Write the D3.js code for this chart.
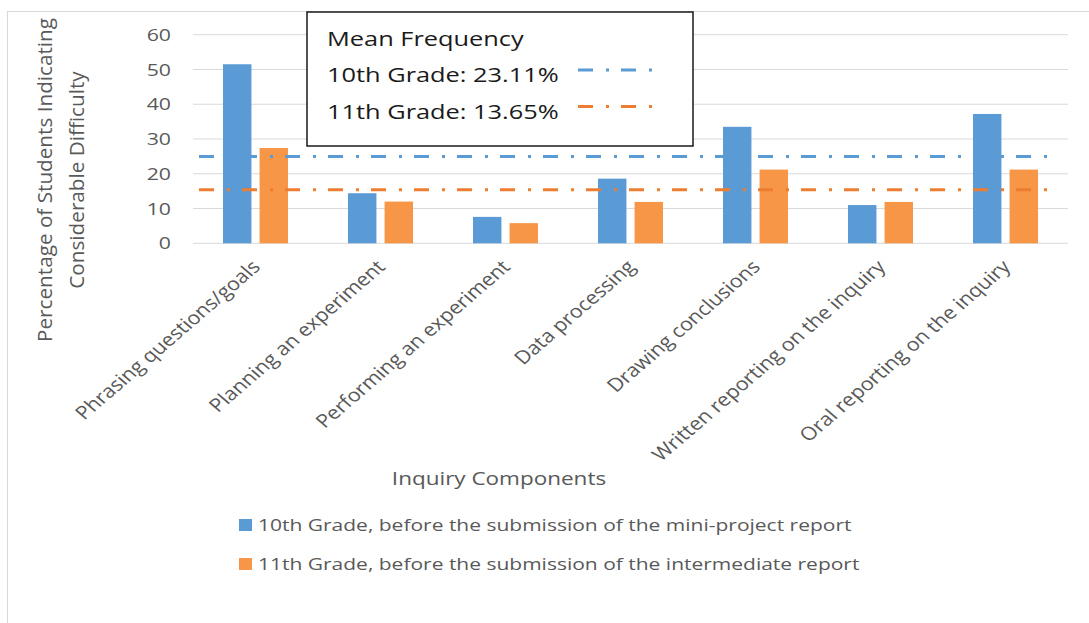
<!DOCTYPE html>
<html>
<head>
<meta charset="utf-8">
<script src="https://cdn.jsdelivr.net/npm/d3@7"></script>
<style>
  body{margin:0;background:#fff;}
  text{font-family:"Open Sans",sans-serif;}
</style>
</head>
<body>
<svg id="chart" width="1089" height="623"></svg>
<script>
// data
var categories = ["Phrasing questions/goals","Planning an experiment","Performing an experiment",
  "Data processing","Drawing conclusions","Written reporting on the inquiry","Oral reporting on the inquiry"];
var grade10 = [51.5, 14.4, 7.6, 18.6, 33.5, 11.0, 37.2];
var grade11 = [27.4, 12.0, 5.8, 11.9, 21.2, 11.9, 21.2];
var seriesNames = ["10th Grade, before the submission of the mini-project report",
  "11th Grade, before the submission of the intermediate report"];
var meanLevels = [25.0, 15.4];
var meanLabels = ["10th Grade: 23.11%","11th Grade: 13.65%"];
var yTicks = [0,10,20,30,40,50,60];

var blue = "#5B9BD5", orange = "#F79646", orangeLine = "#ED7D31";
var grey = "#595959";
var sx = 1.25; // text in the picture is stretched sideways

var svg = d3.select("svg#chart");

// outer frame
svg.append("rect")
  .attr("x",7.5).attr("y",11.5)
  .attr("width",1200).attr("height",700)
  .attr("fill","none").attr("stroke","#D9D9D9");

var x0 = d3.scaleBand().domain(categories).range([193,1068]).padding(0);
var x1 = d3.scaleBand().domain([0,1]).range([-32.5,32.5]).paddingInner(8/36);
var y = d3.scaleLinear().domain([0,60]).range([243.3,34.7]);

// gridlines
svg.selectAll("line.grid")
  .data(yTicks)
  .enter().append("line")
  .attr("class","grid")
  .attr("x1",x0.range()[0]).attr("x2",x0.range()[1])
  .attr("y1",function(d){return y(d);}).attr("y2",function(d){return y(d);})
  .attr("stroke","#D9D9D9").attr("stroke-width",1);

// y tick labels
svg.selectAll("text.ylabel")
  .data(yTicks)
  .enter().append("text")
  .attr("class","ylabel")
  .attr("transform",function(d){return "translate(171,"+y(d)+") scale("+sx+",1)";})
  .attr("dy","0.36em")
  .attr("text-anchor","end")
  .attr("fill",grey)
  .style("font-size","17px")
  .text(function(d){return d;});

// bars
var series = [grade10, grade11];
var colors = [blue, orange];
for(var s=0; s<2; s++){
  svg.selectAll("rect.bar"+s)
    .data(series[s])
    .enter().append("rect")
    .attr("class","bar"+s)
    .attr("x",function(d,i){return x0(categories[i]) + x0.bandwidth()/2 + x1(s);})
    .attr("width",x1.bandwidth())
    .attr("y",function(d){return y(d);})
    .attr("height",function(d){return y(0)-y(d);})
    .attr("fill",colors[s]);
}

// mean lines
var lineColors = [blue, orangeLine];
svg.selectAll("line.mean")
  .data(meanLevels)
  .enter().append("line")
  .attr("class","mean")
  .attr("x1",199).attr("x2",1054)
  .attr("y1",function(d){return y(d);}).attr("y2",function(d){return y(d);})
  .attr("stroke",function(d,i){return lineColors[i];})
  .attr("stroke-width",3)
  .attr("stroke-dasharray","15,13,3,12");

// category labels
svg.selectAll("text.xlabel")
  .data(categories)
  .enter().append("text")
  .attr("class","xlabel")
  .attr("transform",function(d){
    return "translate("+(x0(d)+x0.bandwidth()/2+6)+",268) scale(1.16,1) rotate(-45)";
  })
  .attr("text-anchor","end")
  .attr("fill",grey)
  .style("font-size","18.5px")
  .text(function(d){return d;});

// axis titles
var ytitle = ["Percentage of Students Indicating","Considerable Difficulty"];
var ytitleX = [52,84];
ytitle.forEach(function(t,i){
  svg.append("text")
    .attr("transform","translate("+ytitleX[i]+",180) rotate(-90) scale(1.15,1.1)")
    .attr("text-anchor","middle")
    .attr("fill",grey)
    .style("font-size","18px")
    .text(t);
});
svg.append("text")
  .attr("transform","translate(499,485) scale("+sx+",1)")
  .attr("text-anchor","middle")
  .attr("fill",grey)
  .style("font-size","18px")
  .text("Inquiry Components");

// mean frequency box
svg.append("rect")
  .attr("x",307).attr("y",12)
  .attr("width",386).attr("height",134)
  .attr("fill","#fff").attr("stroke","#1a1a1a").attr("stroke-width",1.5);
svg.append("text")
  .attr("transform","translate(327,46) scale("+sx+",1)")
  .attr("fill","#1a1a1a")
  .style("font-size","20.3px")
  .text("Mean Frequency");
var boxRows = [82,118.5];
meanLabels.forEach(function(t,i){
  svg.append("text")
    .attr("transform","translate(327,"+boxRows[i]+") scale("+sx+",1)")
    .attr("fill","#1a1a1a")
    .style("font-size","20.3px")
    .text(t);
  svg.append("line")
    .attr("x1",578).attr("x2",656)
    .attr("y1",boxRows[i]-12).attr("y2",boxRows[i]-12)
    .attr("stroke",lineColors[i])
    .attr("stroke-width",3)
    .attr("stroke-dasharray","15,13,3,12");
});

// series legend
var legRows = [531,570];
seriesNames.forEach(function(t,i){
  svg.append("rect")
    .attr("x",239).attr("y",legRows[i]-12)
    .attr("width",13).attr("height",12)
    .attr("fill",colors[i]);
  svg.append("text")
    .attr("transform","translate(258,"+legRows[i]+") scale("+sx+",1)")
    .attr("fill",grey)
    .style("font-size","16.8px")
    .text(t);
});
</script>
</body>
</html>
